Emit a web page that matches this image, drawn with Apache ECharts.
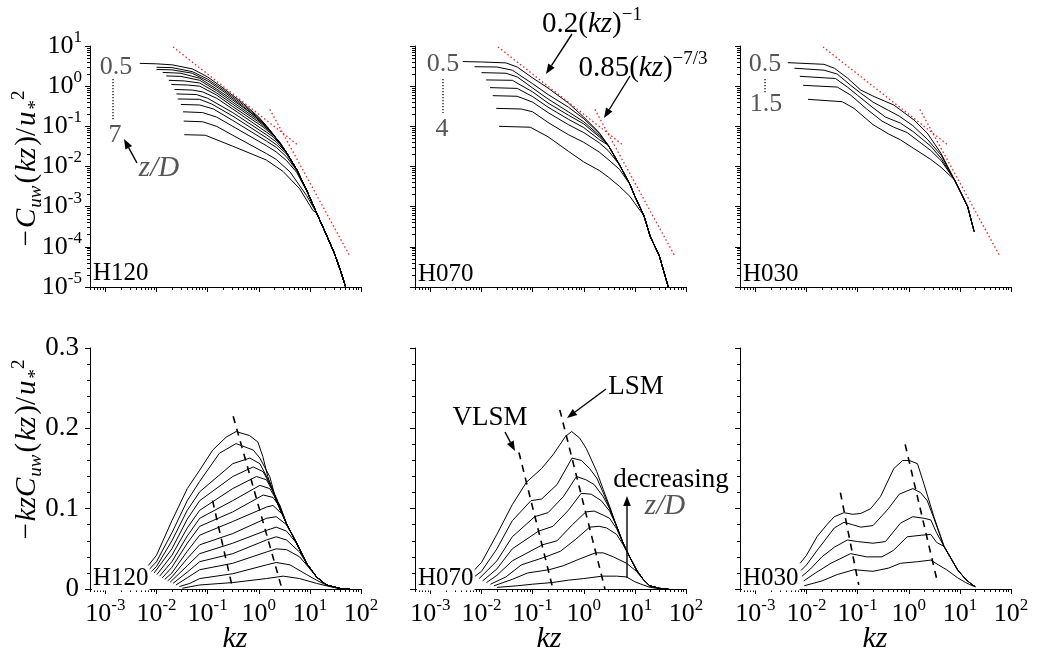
<!DOCTYPE html>
<html><head><meta charset="utf-8">
<script src="https://cdn.jsdelivr.net/npm/echarts@6/dist/echarts.min.js"></script>
<style>html,body{margin:0;padding:0;background:#fff}#c{width:1037px;height:655px}</style>
</head><body><div id="c"></div>
<script>
// ---------- tick labels ----------
const kzMajorTicks = [0.001, 0.01, 0.1, 1, 10, 100];
const cMajorTicks = [0.00001, 0.0001, 0.001, 0.01, 0.1, 1, 10];
const premultTicks = [0, 0.1, 0.2, 0.3];
const panelNames = ['H120', 'H070', 'H030'];

// ---------- H120 (z/D = 0.5 ... 7) ----------
const h120Top = [
  [[0.0047,3.7],[0.01,3.6],[0.02,3.4],[0.05,2.7],[0.1,1.7],[0.2,0.9],[0.5,0.37],[1,0.17],[1.5,0.094]],
  [[0.01,2.95],[0.02,2.9],[0.05,2.3],[0.1,1.5],[0.2,0.82],[0.5,0.34],[1,0.16],[1.5,0.093]],
  [[0.01,2.6],[0.02,2.55],[0.05,2.1],[0.1,1.35],[0.2,0.75],[0.5,0.31],[1,0.15],[1.5,0.09]],
  [[0.0132,2.2],[0.03,2.1],[0.07,1.57],[0.15,0.85],[0.31,0.45],[0.78,0.195],[1.22,0.12],[1.9,0.065]],
  [[0.0155,1.8],[0.03,1.75],[0.07,1.4],[0.15,0.77],[0.31,0.4],[0.9,0.155],[1.41,0.096],[1.9,0.062]],
  [[0.0174,1.4],[0.035,1.35],[0.07,1.2],[0.15,0.68],[0.31,0.355],[1.05,0.123],[1.64,0.076],[2.6,0.04]],
  [[0.0195,1.1],[0.04,1.07],[0.07,1.0],[0.15,0.6],[0.31,0.31],[1.22,0.096],[1.9,0.06],[2.6,0.039]],
  [[0.0224,0.83],[0.05,0.8],[0.08,0.72],[0.15,0.5],[0.31,0.27],[1.41,0.072],[1.9,0.055],[3.0,0.03]],
  [[0.0245,0.64],[0.06,0.62],[0.1,0.5],[0.31,0.22],[1.41,0.062],[2.2,0.041],[3.0,0.027]],
  [[0.026,0.48],[0.07,0.47],[0.12,0.36],[0.31,0.18],[1.41,0.052],[2.2,0.035],[3.5,0.0205],[5.5,0.0083]],
  [[0.03,0.35],[0.07,0.34],[0.13,0.27],[0.31,0.14],[1.41,0.043],[2.2,0.03],[3.5,0.0174],[5.5,0.008]],
  [[0.033,0.23],[0.08,0.22],[0.15,0.17],[0.31,0.1],[1.41,0.033],[2.2,0.023],[3.5,0.014],[5.5,0.0072],[8.6,0.0025]],
  [[0.034,0.135],[0.08,0.13],[0.15,0.1],[0.31,0.06],[1.41,0.021],[2.2,0.015],[4.1,0.0073],[8.6,0.0019]],
  [[0.035,0.062],[0.09,0.06],[0.31,0.032],[1.41,0.0145],[3.0,0.0075],[6.3,0.0028],[11.5,0.0008]]
];
const h120TopTail = [[2.2,0.05],[3.5,0.022],[5.5,0.0085],[8.6,0.0026],[13.5,0.0007],[21,0.0002],[30,0.00007],[40,0.000025],[50,0.00001],[56,0.000003]];
const h120Bot = [
  [[0.0063,0.026],[0.01,0.042],[0.02,0.085],[0.04,0.125],[0.07,0.148],[0.126,0.173],[0.23,0.189],[0.36,0.196],[0.66,0.191],[0.96,0.183],[1.2,0.165],[1.5,0.14],[2.2,0.11]],
  [[0.0071,0.024],[0.01,0.034],[0.02,0.07],[0.04,0.11],[0.07,0.134],[0.17,0.169],[0.36,0.181],[0.78,0.173],[1.05,0.163],[1.64,0.14],[2.2,0.11]],
  [[0.008,0.022],[0.01,0.028],[0.02,0.06],[0.04,0.098],[0.07,0.121],[0.31,0.156],[0.67,0.163],[1.05,0.156],[1.64,0.133],[2.2,0.11]],
  [[0.009,0.02],[0.02,0.05],[0.04,0.087],[0.07,0.11],[0.31,0.14],[0.78,0.152],[1.22,0.146],[1.9,0.123],[2.6,0.1]],
  [[0.0102,0.018],[0.02,0.042],[0.04,0.076],[0.07,0.098],[0.31,0.125],[0.9,0.14],[1.41,0.136],[2.2,0.114]],
  [[0.0115,0.016],[0.02,0.034],[0.04,0.066],[0.07,0.088],[0.31,0.11],[1.05,0.129],[1.64,0.125],[2.6,0.104]],
  [[0.013,0.014],[0.02,0.027],[0.04,0.057],[0.07,0.078],[0.31,0.096],[1.22,0.117],[1.9,0.114],[2.6,0.102]],
  [[0.0145,0.012],[0.02,0.02],[0.04,0.047],[0.07,0.067],[0.31,0.084],[1.41,0.102],[1.9,0.104],[3.0,0.092]],
  [[0.0165,0.01],[0.02,0.015],[0.04,0.038],[0.07,0.055],[0.31,0.069],[1.41,0.088],[2.2,0.09],[3.5,0.08]],
  [[0.0185,0.0085],[0.04,0.029],[0.07,0.044],[0.31,0.057],[1.41,0.073],[2.2,0.077],[3.5,0.072],[5.5,0.057]],
  [[0.021,0.007],[0.04,0.021],[0.07,0.034],[0.31,0.044],[1.41,0.061],[2.2,0.065],[3.5,0.061],[6.3,0.046],[8.6,0.032]],
  [[0.024,0.005],[0.04,0.014],[0.07,0.024],[0.31,0.032],[1.41,0.046],[2.2,0.05],[3.5,0.049],[6.3,0.04],[8.6,0.03]],
  [[0.028,0.003],[0.045,0.007],[0.07,0.013],[0.31,0.019],[1.41,0.03],[2.2,0.033],[4.1,0.03],[8.6,0.018],[13.5,0.011],[18,0.007],[21,0.005]],
  [[0.032,0.001],[0.07,0.005],[0.31,0.008],[1.41,0.013],[3.0,0.016],[6.3,0.013],[13.5,0.007],[21,0.004],[29,0.002]]
];
const h120BotTail = [[3.5,0.081],[5.5,0.057],[8.6,0.032],[13.5,0.015],[21,0.005],[40,0.0005],[60,0]];
const h120Vlsm = [[0.125,0.11],[0.31,0]];
const h120Lsm = [[0.316,0.215],[2.85,0]];

// ---------- H070 (z/D = 0.5 ... 4) ----------
const h070Top = [
  [[0.0043,4.1],[0.01,4.0],[0.03,3.8],[0.05,3.0],[0.1,1.6],[0.2,0.9],[0.5,0.38],[1,0.17],[2,0.07]],
  [[0.0073,3.05],[0.02,3.0],[0.04,2.5],[0.1,1.15],[0.2,0.62],[0.5,0.3],[1,0.155],[2,0.067]],
  [[0.01,2.17],[0.03,2.1],[0.05,1.7],[0.1,0.9],[0.2,0.48],[0.5,0.23],[1,0.13],[2,0.06]],
  [[0.0123,1.43],[0.04,1.4],[0.1,0.72],[0.2,0.38],[0.5,0.19],[1,0.115],[2,0.055]],
  [[0.0147,0.92],[0.05,0.88],[0.1,0.55],[0.2,0.3],[0.5,0.15],[1,0.093],[2,0.047]],
  [[0.0166,0.58],[0.05,0.56],[0.1,0.4],[0.2,0.22],[0.5,0.11],[1,0.07],[2,0.039],[3,0.025]],
  [[0.0194,0.28],[0.06,0.27],[0.1,0.23],[0.2,0.125],[0.5,0.062],[1,0.04],[2,0.023],[3,0.015],[5,0.0085]],
  [[0.022,0.1],[0.09,0.095],[0.2,0.055],[0.5,0.024],[1,0.013],[2,0.008],[3,0.0055],[5,0.0032],[8,0.0018],[10,0.0012]]
];
const h070TopTail = [[3,0.034],[5,0.011],[8,0.0036],[10,0.0018],[15,0.0006],[20,0.00018],[30,0.00006],[45,0.00001],[50,0.000003]];
const h070Bot = [
  [[0.0063,0.0195],[0.01,0.033],[0.02,0.068],[0.04,0.105],[0.076,0.133],[0.15,0.15],[0.25,0.167],[0.44,0.19],[0.58,0.196],[0.83,0.188],[1.12,0.175],[1.8,0.146]],
  [[0.0075,0.016],[0.01,0.022],[0.02,0.05],[0.04,0.085],[0.093,0.11],[0.15,0.112],[0.3,0.13],[0.59,0.163],[0.9,0.16],[1.3,0.15],[1.8,0.138],[2.4,0.12],[3.2,0.101]],
  [[0.009,0.013],[0.02,0.035],[0.04,0.065],[0.11,0.09],[0.2,0.095],[0.4,0.115],[0.72,0.14],[1.1,0.136],[1.6,0.13],[2.4,0.115],[3.2,0.1]],
  [[0.0105,0.01],[0.02,0.025],[0.04,0.05],[0.13,0.072],[0.25,0.078],[0.5,0.098],[0.89,0.119],[1.4,0.118],[2.2,0.11],[3.2,0.097]],
  [[0.0125,0.008],[0.02,0.017],[0.04,0.035],[0.155,0.055],[0.3,0.06],[0.6,0.08],[1.1,0.096],[1.6,0.097],[2.4,0.092],[3.2,0.088],[4.4,0.075]],
  [[0.015,0.006],[0.03,0.015],[0.06,0.03],[0.18,0.04],[0.35,0.047],[0.7,0.062],[1.3,0.077],[2.0,0.078],[2.8,0.076],[4.4,0.068],[5.9,0.055]],
  [[0.0175,0.004],[0.04,0.012],[0.08,0.02],[0.21,0.024],[0.4,0.029],[0.8,0.037],[1.7,0.045],[2.4,0.045],[3.8,0.04],[6.9,0.032],[10.7,0.022]],
  [[0.02,0.002],[0.05,0.004],[0.1,0.006],[0.24,0.008],[0.5,0.011],[1,0.013],[2.3,0.016],[4.4,0.016],[6.9,0.015],[10,0.009],[14.5,0.005],[20,0.002],[30,0.0005]]
];
const h070BotTail = [[2.4,0.124],[3.2,0.103],[4.4,0.078],[5.9,0.057],[7.9,0.04],[10.7,0.024],[14.5,0.012],[19.5,0.004],[30,0.0008],[45,0]];
const h070Vlsm = [[0.054,0.17],[0.25,0]];
const h070Lsm = [[0.34,0.223],[2.6,0]];

// ---------- H030 (z/D = 0.5 ... 1.5) ----------
const h030Top = [
  [[0.0043,3.85],[0.022,3.5],[0.035,2.8],[0.063,1.6],[0.115,0.8],[0.21,0.55],[0.51,0.34],[1.26,0.144],[2.3,0.068],[4.3,0.021]],
  [[0.0058,2.8],[0.022,2.5],[0.04,2.0],[0.073,1.05],[0.115,0.67],[0.2,0.4],[0.4,0.25],[0.65,0.18],[1.2,0.104],[2.3,0.048],[4.3,0.019]],
  [[0.0074,1.76],[0.037,1.55],[0.063,0.95],[0.1,0.59],[0.2,0.29],[0.35,0.17],[0.69,0.12],[1.2,0.075],[2.0,0.044],[2.7,0.032],[4.3,0.016]],
  [[0.0086,1.05],[0.04,0.95],[0.073,0.6],[0.15,0.27],[0.3,0.135],[0.5,0.096],[0.93,0.07],[1.8,0.037],[2.7,0.025],[4.3,0.014]],
  [[0.0107,0.47],[0.05,0.41],[0.085,0.28],[0.2,0.11],[0.4,0.065],[0.69,0.046],[1.26,0.028],[2.7,0.015],[4.3,0.0095]]
];
const h030TopTail = [[7.8,0.0047],[10,0.0025],[14.2,0.001],[19,0.00024]];
const h030Bot = [
  [[0.0075,0.032],[0.01,0.042],[0.016,0.065],[0.025,0.08],[0.035,0.09],[0.054,0.095],[0.08,0.093],[0.115,0.094],[0.18,0.1],[0.28,0.115],[0.51,0.15],[0.76,0.16],[1.02,0.16],[1.48,0.156],[2.0,0.13],[3.1,0.09]],
  [[0.0078,0.023],[0.01,0.03],[0.017,0.05],[0.035,0.076],[0.054,0.083],[0.08,0.08],[0.115,0.077],[0.2,0.079],[0.4,0.1],[0.65,0.118],[1.2,0.125],[1.7,0.12],[2.3,0.11],[3.1,0.088]],
  [[0.0082,0.016],[0.012,0.025],[0.02,0.04],[0.035,0.052],[0.063,0.061],[0.1,0.059],[0.2,0.057],[0.35,0.059],[0.69,0.082],[1.2,0.09],[2.0,0.088],[2.7,0.086],[3.5,0.07]],
  [[0.0088,0.01],[0.015,0.02],[0.03,0.032],[0.073,0.044],[0.15,0.04],[0.3,0.04],[0.5,0.048],[0.93,0.065],[1.8,0.067],[2.7,0.068],[3.5,0.058]],
  [[0.009,0.004],[0.02,0.01],[0.04,0.018],[0.085,0.024],[0.2,0.022],[0.4,0.026],[0.69,0.032],[1.5,0.034],[2.7,0.036],[3.8,0.03],[5.5,0.024],[9,0.014],[13,0.008],[17.7,0.004],[20,0.003]]
];
const h030BotTail = [[4.9,0.053],[9,0.024],[13,0.012],[17.7,0.005],[20,0.003]];
const h030Vlsm = [[0.046,0.12],[0.105,0.005]];
const h030Lsm = [[0.85,0.18],[3.6,0.01]];

// ---------- reference power laws (endpoints) ----------
const lawMinus1 = [[0.021,9.5],[5.6,0.0357]];       // 0.2(kz)^-1
const lawMinus73 = [[1.65,0.264],[60,0.00006]];     // 0.85(kz)^-7/3

// ---------------------------------------------------------------
const panels = [
  {top: h120Top, topTail: h120TopTail, bot: h120Bot, botTail: h120BotTail, vlsm: h120Vlsm, lsm: h120Lsm},
  {top: h070Top, topTail: h070TopTail, bot: h070Bot, botTail: h070BotTail, vlsm: h070Vlsm, lsm: h070Lsm},
  {top: h030Top, topTail: h030TopTail, bot: h030Bot, botTail: h030BotTail, vlsm: h030Vlsm, lsm: h030Lsm}
];

function withTail(curve, tail) {
  const last = curve[curve.length - 1][0];
  return curve.concat(tail.filter(p => p[0] > last));
}
function minorLog(lo, hi) {
  const out = [];
  for (let e = -6; e <= 2; e++) for (let m = 2; m <= 9; m++) {
    const v = +(m * Math.pow(10, e)).toPrecision(3);
    if (v >= lo && v <= hi) out.push(v);
  }
  return out;
}
const kzMinorTicks = minorLog(5e-4, 100);
const cMinorTicks = minorLog(1e-5, 10);

const SERIF = 'Liberation Serif';
const tickRich = {
  b: {fontFamily: SERIF, fontSize: 26, color: '#000', lineHeight: 34},
  s: {fontFamily: SERIF, fontSize: 17, color: '#000', verticalAlign: 'top', lineHeight: 17}
};
const powLabel = v => '{b|10}{s|' + Math.round(Math.log10(v)) + '}';

const lefts = [90, 415, 740];
const W = 271, H = 241, topT = 46, botT = 348;
const grid = [], xAxis = [], yAxis = [], series = [];

for (let row = 0; row < 2; row++) {
  for (let p = 0; p < 3; p++) {
    const g = row * 3 + p;
    grid.push({left: lefts[p], top: row === 0 ? topT : botT, width: W, height: H, outerBoundsMode: 'none', containLabel: false});
    const showX = row === 1, showY = p === 0;
    xAxis.push({
      gridIndex: g, type: 'log', logBase: 10, min: 5e-4, max: 100, position: 'bottom',
      axisLine: {show: true, onZero: false, lineStyle: {color: '#000', width: 1}},
      axisTick: {show: true, length: 5, customValues: kzMajorTicks, lineStyle: {color: '#000'}},
      axisLabel: {show: showX, customValues: kzMajorTicks, margin: 8, formatter: powLabel, rich: tickRich},
      splitLine: {show: false}, minorTick: {show: false}
    });
    xAxis.push({
      gridIndex: g, type: 'log', logBase: 10, min: 5e-4, max: 100, position: 'bottom',
      axisLine: {show: false, onZero: false},
      axisTick: {show: true, length: 3, customValues: kzMinorTicks, lineStyle: {color: '#000'}},
      axisLabel: {show: false}, splitLine: {show: false}
    });
    if (row === 0) {
      yAxis.push({
        gridIndex: g, type: 'log', logBase: 10, min: 1e-5, max: 10, position: 'left',
        axisLine: {show: true, onZero: false, lineStyle: {color: '#000', width: 1}},
        axisTick: {show: true, length: 5, customValues: cMajorTicks, lineStyle: {color: '#000'}},
        axisLabel: {show: showY, customValues: cMajorTicks, margin: 8, formatter: powLabel, rich: tickRich},
        splitLine: {show: false}
      });
      yAxis.push({
        gridIndex: g, type: 'log', logBase: 10, min: 1e-5, max: 10, position: 'left',
        axisLine: {show: false, onZero: false},
        axisTick: {show: true, length: 3, customValues: cMinorTicks, lineStyle: {color: '#000'}},
        axisLabel: {show: false}, splitLine: {show: false}
      });
    } else {
      yAxis.push({
        gridIndex: g, type: 'value', min: 0, max: 0.3, interval: 0.1, position: 'left',
        axisLine: {show: true, onZero: false, lineStyle: {color: '#000', width: 1}},
        axisTick: {show: true, length: 5, customValues: premultTicks, lineStyle: {color: '#000'}},
        axisLabel: {show: showY, customValues: premultTicks, margin: 11, fontFamily: SERIF, fontSize: 27, color: '#000',
          formatter: v => (v === 0 ? '0' : v.toFixed(1))},
        minorTick: {show: true, splitNumber: 5, length: 3, lineStyle: {color: '#000'}},
        splitLine: {show: false}, minorSplitLine: {show: false}
      });
      yAxis.push({gridIndex: g, type: 'value', min: 0, max: 0.3, show: false});
    }
  }
}

function line(data, g, style) {
  return {type: 'line', xAxisIndex: 2 * g, yAxisIndex: 2 * g, data: data, symbol: 'none', showSymbol: false,
    silent: true, clip: true, lineStyle: style, z: 3};
}
const black = {color: '#000', width: 1};
panels.forEach((pn, p) => {
  pn.top.forEach(c => series.push(line(withTail(c, pn.topTail), p, black)));
  series.push(line(lawMinus1, p, {color: '#f02020', width: 1.3, type: [1.5, 2.5]}));
  series.push(line(lawMinus73, p, {color: '#f02020', width: 1.3, type: [1.5, 2.5]}));
  pn.bot.forEach(c => series.push(line(withTail(c, pn.botTail), 3 + p, black)));
  series.push(line(pn.vlsm, 3 + p, {color: '#000', width: 1.6, type: [7, 6]}));
  series.push(line(pn.lsm, 3 + p, {color: '#000', width: 1.6, type: [7, 6]}));
});

// ---------- annotations ----------
function txt(x, y, text, extra, rot) {
  const el = {type: 'text', x: x, y: y, z: 100, style: Object.assign({
    text: text, fill: '#000', font: '26px "' + SERIF + '"',
    align: 'center', verticalAlign: 'middle', textAlign: 'center', textVerticalAlign: 'middle'}, extra || {})};
  if (rot) el.rotation = rot;
  return el;
}
function arrow(x1, y1, x2, y2) {
  const a = Math.atan2(y2 - y1, x2 - x1), L = 10, Wd = 3.8;
  const bx = x2 - L * Math.cos(a), by = y2 - L * Math.sin(a);
  const px = -Math.sin(a) * Wd, py = Math.cos(a) * Wd;
  return [
    {type: 'line', z: 100, shape: {x1: x1, y1: y1, x2: bx, y2: by}, style: {stroke: '#000', lineWidth: 1.4}},
    {type: 'polygon', z: 100, shape: {points: [[x2, y2], [bx + px, by + py], [bx - px, by - py]]}, style: {fill: '#000'}}
  ];
}
function dotted(x, y1, y2) {
  return {type: 'line', z: 100, shape: {x1: x, y1: y1, x2: x, y2: y2}, style: {stroke: '#333', lineWidth: 1.5, lineDash: [1.2, 1.8]}};
}
const tPad = [0, 1, 0, 1];
const mathRich = {
  r: {fontFamily: SERIF, fontSize: 29, color: '#000', lineHeight: 40, padding: tPad},
  i: {fontFamily: SERIF, fontStyle: 'italic', fontSize: 29, color: '#000', lineHeight: 40, padding: tPad},
  sb: {fontFamily: SERIF, fontStyle: 'italic', fontSize: 19, color: '#000', verticalAlign: 'bottom', lineHeight: 19, padding: [0, 1, 2, 0]},
  sp: {fontFamily: SERIF, fontSize: 19, color: '#000', verticalAlign: 'top', lineHeight: 19, padding: [3, 0, 0, 0]}
};
const grayRich = {
  r: {fontFamily: SERIF, fontSize: 29, color: '#333', lineHeight: 36},
  i: {fontFamily: SERIF, fontStyle: 'italic', fontSize: 29, color: '#333', lineHeight: 36},
  sp: {fontFamily: SERIF, fontSize: 19, color: '#333', verticalAlign: 'top', lineHeight: 19}
};
const boxStyle = {font: '25px "' + SERIF + '"', align: 'left', textAlign: 'left', backgroundColor: '#fff', padding: [0, 1, 0, 1]};
const gray = '#555';
const ROT = Math.PI / 2;

const graphic = [
  // y axis titles
  txt(27, 169, '{r|\u2212}{i|C}{sb|uw}{r|(}{i|kz}{r|)/}{i|u}{sb|*}{sp|2}', {rich: mathRich}, ROT),
  txt(27, 450, '{r|\u2212}{i|kzC}{sb|uw}{r|(}{i|kz}{r|)/}{i|u}{sb|*}{sp|2}', {rich: mathRich}, ROT),
  // x axis titles
  txt(235, 639, 'kz', {font: 'italic 30px "' + SERIF + '"'}),
  txt(549, 639, 'kz', {font: 'italic 30px "' + SERIF + '"'}),
  txt(875, 639, 'kz', {font: 'italic 30px "' + SERIF + '"'}),
  // panel names
  txt(92, 273, panelNames[0], boxStyle), txt(417, 274, panelNames[1], boxStyle), txt(742, 274, panelNames[2], boxStyle),
  txt(92, 578, panelNames[0], boxStyle), txt(417, 578, panelNames[1], boxStyle), txt(742, 578, panelNames[2], boxStyle),
  // H120 top annotations
  txt(116, 67, '0.5', {fill: gray, font: '26px "' + SERIF + '"'}),
  dotted(113, 79, 121),
  txt(115, 135, '7', {fill: gray, font: '26px "' + SERIF + '"'}),
  txt(159, 168, 'z/D', {fill: gray, font: 'italic 29px "' + SERIF + '"'}),
  ...arrow(137, 163, 124, 139),
  // H070 top annotations
  txt(443, 64, '0.5', {fill: gray, font: '26px "' + SERIF + '"'}),
  dotted(443, 79, 113),
  txt(442, 129, '4', {fill: gray, font: '26px "' + SERIF + '"'}),
  txt(592, 24, '{r|0.2(}{i|kz}{r|)}{sp|\u22121}', {rich: grayRich}),
  ...arrow(572, 34, 546, 74),
  txt(643, 68, '{r|0.85(}{i|kz}{r|)}{sp|\u22127/3}', {rich: grayRich}),
  ...arrow(630, 76, 604, 118),
  // H030 top annotations
  txt(765, 64, '0.5', {fill: gray, font: '26px "' + SERIF + '"'}),
  dotted(765, 79, 93),
  txt(766, 104, '1.5', {fill: gray, font: '26px "' + SERIF + '"'}),
  // H070 bottom annotations
  txt(636, 387, 'LSM', {font: '27px "' + SERIF + '"'}),
  ...arrow(606, 389, 567, 418),
  txt(490, 418, 'VLSM', {font: '27px "' + SERIF + '"'}),
  ...arrow(505, 432, 515, 451),
  txt(671, 480, 'decreasing', {font: '27px "' + SERIF + '"'}),
  txt(665, 506, 'z/D', {fill: gray, font: 'italic 29px "' + SERIF + '"'}),
  ...arrow(627, 578, 627, 496)
];

const chart = echarts.init(document.getElementById('c'), null, {renderer: 'canvas'});
chart.setOption({
  animation: false, backgroundColor: '#fff',
  grid: grid, xAxis: xAxis, yAxis: yAxis, series: series, graphic: graphic
});
</script></body></html>
